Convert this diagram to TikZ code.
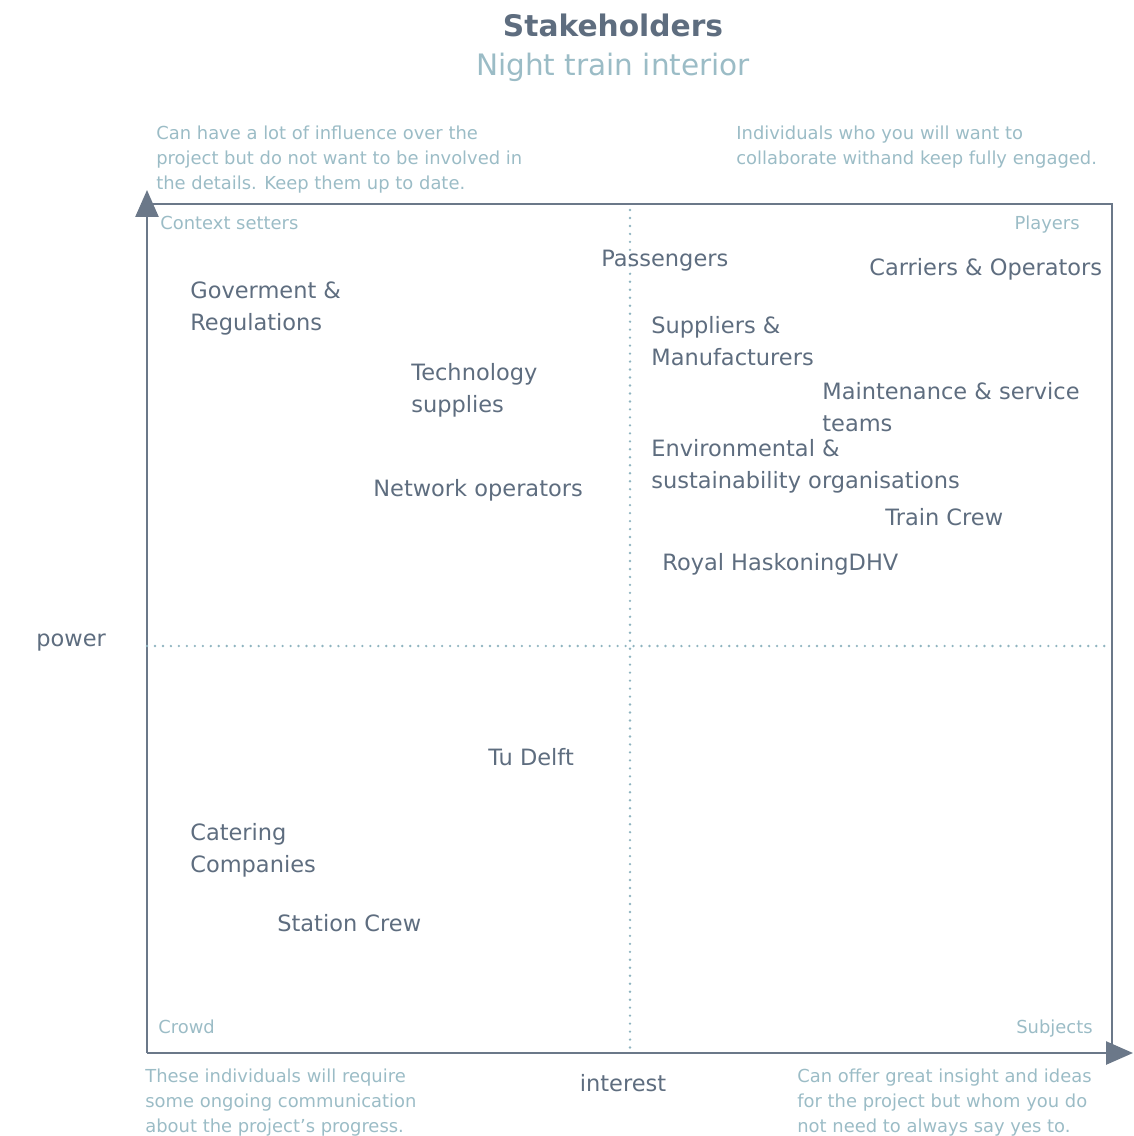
\documentclass[tikz,border=0pt]{standalone}
\usepackage{fontspec}
\setmainfont{DejaVu Sans}
\usepackage{xcolor}
\usepackage{tikz}
\usetikzlibrary{arrows.meta}

\definecolor{slate}{HTML}{5E6D7F}
\definecolor{axisgray}{HTML}{6B7889}
\definecolor{mist}{HTML}{9BBCC6}
\definecolor{dotblue}{HTML}{8FB4C0}

\begin{document}
\begin{tikzpicture}[x=0.02cm,y=-0.02cm,
  holder/.style={anchor=base west,align=left,text=slate,inner sep=0pt,
    font=\fontsize{12.8}{18.1}\selectfont},
  note/.style={anchor=base west,align=left,text=mist,inner sep=0pt,
    font=\fontsize{10.2}{14.2}\selectfont},
  axis/.style={axisgray,line width=1.5pt,-{Triangle[width=0.46cm,length=0.54cm]}},
  divider/.style={dotblue,line width=1.5pt,line cap=round,dash pattern=on 0pt off 4.54pt}]
\useasboundingbox (0,0) rectangle (1133,1136);

% Title
\node[text=slate,font=\fontsize{16.9}{20}\selectfont\bfseries] (title) at (613,25) {Stakeholders};
\node[text=mist,font=\fontsize{16.8}{20}\selectfont] (subtitle) at (613,67) {Night train interior};

% Frame and axes
\coordinate (origin) at (147,1053);
\coordinate (ytip) at (147,190);
\coordinate (xtip) at (1133,1053);
\draw[axisgray,line width=1.5pt] (147,204) -- (1112,204) -- (1112,1053);
\draw[axis] (origin) -- (ytip);
\draw[axis] (origin) -- (xtip);

% Quadrant dividers
\draw[divider] (630,210) -- (630,1055);
\draw[divider] (147,646) -- (1112,646);

% Axis labels
\node[holder] (power) at (36,646) {power};
\node[holder,anchor=base] (interest) at (623,1091) {interest};

% Quadrant descriptions (base = last line)
\node[note] (ctxnote) at (156,189.5) {Can have a lot of influence over the\\project but do not want to be involved in\\the details. Keep them up to date.};
\node[note] (playnote) at (736,164.5) {Individuals who you will want to\\collaborate withand keep fully engaged.};
\node[note] (crowdnote) at (145,1132.5) {These individuals will require\\some ongoing communication\\about the project’s progress.};
\node[note] (subjnote) at (797,1132.5) {Can offer great insight and ideas\\for the project but whom you do\\not need to always say yes to.};

% Quadrant names
\node[note] (ctx) at (160,229.5) {Context setters};
\node[note,anchor=base east] (players) at (1080,229.5) {Players};
\node[note] (crowd) at (158,1033.5) {Crowd};
\node[note,anchor=base east] (subjects) at (1093,1033.5) {Subjects};

% Stakeholders
\node[holder] (passengers) at (601,266) {Passengers};
\node[holder] (carriers) at (869,275) {Carriers \& Operators};
\node[holder] (government) at (190,330) {Goverment \&\\Regulations};
\node[holder] (suppliers) at (651,365) {Suppliers \&\\Manufacturers};
\node[holder] (technology) at (411,412) {Technology\\supplies};
\node[holder] (maintenance) at (822,431) {Maintenance \& service\\teams};
\node[holder] (environment) at (651,488) {Environmental \&\\sustainability organisations};
\node[holder] (network) at (373,496) {Network operators};
\node[holder] (traincrew) at (885,525) {Train Crew};
\node[holder] (royal) at (662,570) {Royal HaskoningDHV};
\node[holder] (tudelft) at (488,765) {Tu Delft};
\node[holder] (catering) at (190,872) {Catering\\Companies};
\node[holder] (stationcrew) at (277,931) {Station Crew};
\end{tikzpicture}
\end{document}
